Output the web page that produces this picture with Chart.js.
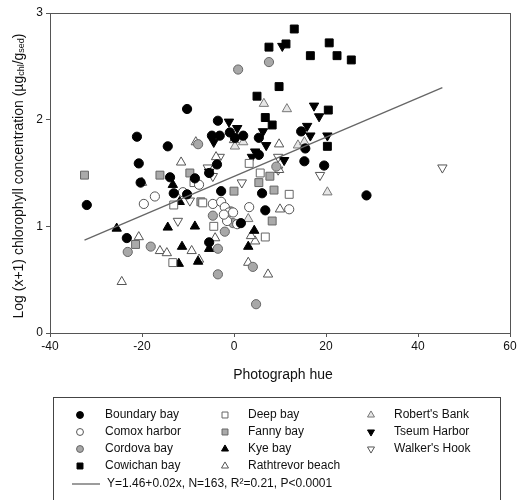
<!DOCTYPE html>
<html>
<head>
<meta charset="utf-8">
<script src="https://cdn.jsdelivr.net/npm/chart.js@4.4.1/dist/chart.umd.min.js"></script>
<style>
  html, body { margin: 0; padding: 0; background: #fff; }
  #wrap { width: 522px; height: 500px; position: relative; }
</style>
</head>
<body>
<div id="wrap"><canvas id="chart" width="522" height="500"></canvas></div>
<script>
// ---- data: [photograph hue, log(x+1) chlorophyll] ----
const xTicks = [-40, -20, 0, 20, 40, 60];
const yTicks = [0, 1, 2, 3];

const boundaryBay = [[-10.2,2.10],[-3.5,1.99],[-21.1,1.84],[-14.4,1.75],[-20.7,1.59],[-0.9,1.88],[-4.8,1.85],[-3.1,1.85],[0.2,1.83],[2.0,1.85],[5.4,1.83],[-3.7,1.58],[-13.9,1.46],[-8.5,1.45],[14.6,1.89],[15.5,1.73],[15.3,1.61],[19.6,1.57],[6.1,1.31],[28.8,1.29],[6.8,1.15],[-32.0,1.20],[-20.3,1.41],[-13.1,1.31],[-10.2,1.30],[-5.4,1.50],[-2.8,1.33],[1.5,1.03],[-23.3,0.89],[-5.4,0.85],[5.4,1.67]];
const comoxHarbor = [[-19.6,1.21],[-17.2,1.28],[-11.1,1.32],[-7.6,1.39],[-4.6,1.21],[-2.8,1.23],[-2.0,1.18],[-1.1,1.13],[-0.2,1.13],[-1.5,1.05],[0.7,1.02],[3.3,1.18],[12.0,1.16],[-2.2,1.11]];
const cordovaBay = [[0.9,2.47],[7.6,2.54],[-7.8,1.77],[9.2,1.56],[-4.6,1.10],[-2.0,0.95],[-23.1,0.76],[-18.1,0.81],[-3.5,0.79],[-3.5,0.55],[4.1,0.62],[4.8,0.27],[-0.2,1.03],[-0.7,1.14]];
const cowichanBay = [[13.1,2.85],[7.6,2.68],[11.3,2.71],[20.7,2.72],[16.6,2.60],[22.4,2.60],[25.5,2.56],[9.8,2.31],[5.0,2.22],[20.5,2.09],[6.8,2.02],[8.3,1.95],[20.3,1.75]];
const deepBay = [[3.3,1.59],[5.7,1.50],[12.0,1.30],[6.8,0.90],[-13.1,1.20],[-8.7,1.41],[-6.8,1.22],[-4.4,1.00],[-13.3,0.66]];
const fannyBay = [[-32.5,1.48],[-16.1,1.48],[-9.6,1.50],[7.8,1.47],[5.4,1.41],[8.7,1.34],[8.3,1.05],[-21.4,0.83],[0.0,1.33],[-7.2,1.23]];
const kyeBay = [[-25.5,0.98],[-13.3,1.39],[-11.8,1.23],[-14.4,0.99],[-8.5,1.00],[-11.3,0.81],[-5.4,0.79],[-12.0,0.65],[-7.8,0.67],[3.1,0.81],[4.4,0.96]];
const rathtrevorBeach = [[-8.3,1.79],[0.0,1.81],[-11.5,1.60],[-3.9,1.65],[9.8,1.77],[9.8,1.53],[10.0,1.16],[4.6,0.86],[7.4,0.55],[-20.0,1.41],[-20.7,0.90],[-16.1,0.77],[-14.6,0.75],[-9.2,0.77],[-4.1,0.89],[-7.6,0.69],[-24.4,0.48],[3.7,0.91],[3.1,0.66]];
const robertsBank = [[6.5,2.15],[11.5,2.10],[2.0,1.79],[0.2,1.75],[13.9,1.76],[15.3,1.79],[20.3,1.32],[3.1,1.07]];
const tseumHarbor = [[-1.1,1.98],[0.7,1.92],[-4.4,1.79],[4.6,1.70],[10.5,2.69],[17.4,2.13],[18.5,2.03],[6.3,1.89],[15.9,1.94],[16.6,1.85],[20.3,1.85],[7.0,1.76],[10.9,1.62],[-5.4,1.51],[3.9,1.65]];
const walkersHook = [[-3.1,1.65],[-5.7,1.55],[-4.6,1.47],[-9.6,1.24],[-12.2,1.05],[1.7,1.41],[9.6,1.65],[9.6,1.53],[18.7,1.48],[45.3,1.55]];
const fitLine = [[-32.5,0.87],[45.3,2.30]];
const fitLabel = 'Y=1.46+0.02x, N=163, R²=0.21, P<0.0001';

// marker looks for each site
const sites = [
  { label: 'Boundary bay',     data: boundaryBay,     shape: 'circle',   rot: 0,   fill: '#000', edge: '#000' },
  { label: 'Comox harbor',     data: comoxHarbor,     shape: 'circle',   rot: 0,   fill: '#fff', edge: '#555' },
  { label: 'Cordova bay',      data: cordovaBay,      shape: 'circle',   rot: 0,   fill: '#a8a8a8', edge: '#666' },
  { label: 'Cowichan bay',     data: cowichanBay,     shape: 'rect',     rot: 0,   fill: '#000', edge: '#000' },
  { label: 'Deep bay',         data: deepBay,         shape: 'rect',     rot: 0,   fill: '#fff', edge: '#666' },
  { label: 'Fanny bay',        data: fannyBay,        shape: 'rect',     rot: 0,   fill: '#aaa', edge: '#666' },
  { label: 'Kye bay',          data: kyeBay,          shape: 'triangle', rot: 0,   fill: '#000', edge: '#000' },
  { label: 'Rathtrevor beach', data: rathtrevorBeach, shape: 'triangle', rot: 0,   fill: '#fff', edge: '#555' },
  { label: "Robert's Bank",    data: robertsBank,     shape: 'triangle', rot: 0,   fill: '#e6e6e6', edge: '#777' },
  { label: 'Tseum Harbor',     data: tseumHarbor,     shape: 'triangle', rot: 180, fill: '#000', edge: '#000' },
  { label: "Walker's Hook",    data: walkersHook,     shape: 'triangle', rot: 180, fill: '#fff', edge: '#555' }
];
const radiusFor = { circle: 4.6, rect: 5.6, triangle: 5.4 };

const datasets = sites.map(s => ({
  label: s.label,
  data: s.data.map(p => ({ x: p[0], y: p[1] })),
  pointStyle: s.shape,
  rotation: s.rot,
  pointRadius: radiusFor[s.shape],
  backgroundColor: s.fill,
  borderColor: s.edge,
  borderWidth: 1
}));
datasets.unshift({
  label: 'fit',
  data: fitLine.map(p => ({ x: p[0], y: p[1] })),
  showLine: true,
  pointRadius: 0,
  borderColor: '#666',
  borderWidth: 1.3
});

// titles, frame and the boxed legend are drawn here
const decorations = {
  id: 'decorations',
  afterDraw(chart) {
    const ctx = chart.ctx;
    const a = chart.chartArea;
    ctx.save();
    ctx.strokeStyle = '#555';
    ctx.lineWidth = 1;
    ctx.strokeRect(a.left + 0.5, a.top + 0.5, a.right - a.left, a.bottom - a.top);

    ctx.fillStyle = '#111';
    ctx.font = '14px "Liberation Sans", Arial, sans-serif';
    ctx.textAlign = 'center';
    ctx.textBaseline = 'middle';
    ctx.fillText('Photograph hue', (a.left + a.right) / 2 + 3, 375);

    // y title with subscripts
    const big = '14px "Liberation Sans", Arial, sans-serif';
    const small = '9px "Liberation Sans", Arial, sans-serif';
    const parts = [
      ['Log (x+1) chlorophyll concentration (\u00b5g', big, 0],
      ['chl', small, 3],
      ['/g', big, 0],
      ['sed', small, 3],
      [')', big, 0]
    ];
    let total = 0;
    parts.forEach(p => { ctx.font = p[1]; total += ctx.measureText(p[0]).width; });
    ctx.translate(19, (a.top + a.bottom) / 2 + 3);
    ctx.rotate(-Math.PI / 2);
    ctx.textAlign = 'left';
    let cx = -total / 2;
    parts.forEach(p => {
      ctx.font = p[1];
      ctx.fillText(p[0], cx, p[2]);
      cx += ctx.measureText(p[0]).width;
    });
    ctx.restore();

    // legend box
    ctx.save();
    ctx.strokeStyle = '#444';
    ctx.lineWidth = 1;
    ctx.strokeRect(53.5, 397.5, 447, 110);
    const cols = [{ m: 80, t: 105 }, { m: 225, t: 248 }, { m: 371, t: 394 }];
    const rowY = [415, 432, 449, 466];
    ctx.font = '12px "Liberation Sans", Arial, sans-serif';
    ctx.textBaseline = 'middle';
    ctx.textAlign = 'left';
    sites.forEach((s, i) => {
      const c = cols[Math.floor(i / 4)];
      const y = rowY[i % 4];
      ctx.fillStyle = s.fill;
      ctx.strokeStyle = s.edge;
      ctx.lineWidth = 1;
      Chart.helpers.drawPoint(ctx, {
        pointStyle: s.shape, rotation: s.rot,
        radius: radiusFor[s.shape] * 0.75, borderWidth: 1
      }, c.m, y);
      ctx.fillStyle = '#111';
      ctx.fillText(s.label, c.t, y);
    });
    ctx.strokeStyle = '#666';
    ctx.lineWidth = 1.3;
    ctx.beginPath();
    ctx.moveTo(72, 484);
    ctx.lineTo(100, 484);
    ctx.stroke();
    ctx.fillStyle = '#111';
    ctx.fillText(fitLabel, 107, 484);
    ctx.restore();
  }
};

new Chart(document.getElementById('chart'), {
  type: 'scatter',
  data: { datasets: datasets },
  options: {
    responsive: false,
    animation: false,
    layout: { padding: { top: 13, right: 12, left: 0, bottom: 0 } },
    plugins: { legend: { display: false }, tooltip: { enabled: false } },
    scales: {
      x: {
        type: 'linear',
        min: xTicks[0],
        max: xTicks[xTicks.length - 1],
        afterFit(scale) { scale.height = 167; },
        afterBuildTicks(scale) { scale.ticks = xTicks.map(v => ({ value: v })); },
        grid: { drawOnChartArea: false, drawTicks: true, tickLength: 4, color: '#555' },
        border: { display: true, color: '#555' },
        ticks: { color: '#111', padding: 2, font: { size: 12, family: '"Liberation Sans", Arial, sans-serif' } }
      },
      y: {
        type: 'linear',
        min: yTicks[0],
        max: yTicks[yTicks.length - 1],
        afterFit(scale) { scale.width = 50; },
        afterBuildTicks(scale) { scale.ticks = yTicks.map(v => ({ value: v })); },
        grid: { drawOnChartArea: false, drawTicks: true, tickLength: 4, color: '#555' },
        border: { display: true, color: '#555' },
        ticks: { color: '#111', padding: 3, font: { size: 12, family: '"Liberation Sans", Arial, sans-serif' } }
      }
    }
  },
  plugins: [decorations]
});
</script>
</body>
</html>
